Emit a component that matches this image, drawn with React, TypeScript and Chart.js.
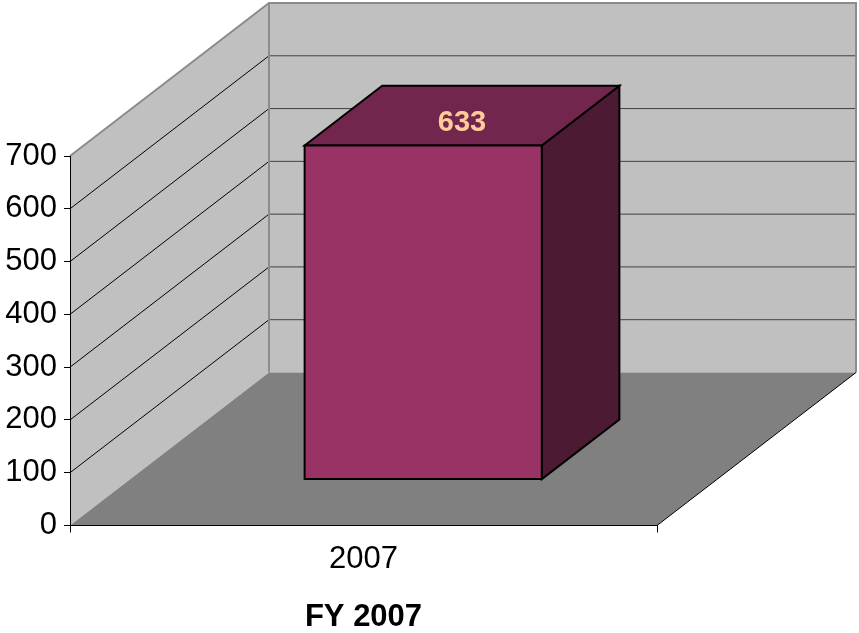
import React, { useEffect, useRef } from 'react';
import { Chart, registerables } from 'chart.js';

Chart.register(...registerables);

// ---- data ----
const categories: string[] = ['2007'];
const seriesValues: number[] = [633];
const yMin = 0;
const yMax = 700;
const yStep = 100;
const xTitle = 'FY 2007';

// ---- 3D look (styles) ----
const DEPTH_X = 199;
const DEPTH_Y = -153;
const BAR_FRONT = 0.3;
const BAR_BACK = 0.69;
const FONT = '"Liberation Sans", Arial, sans-serif';

const wallsPlugin = {
  id: 'walls3d',
  beforeDraw(chart: any) {
    const { ctx, chartArea: ca, scales } = chart;
    const ys = scales.y;
    const L = ca.left;
    const R = ca.right;
    const T = ys.getPixelForValue(yMax);
    const B = ys.getPixelForValue(yMin);
    const DX = DEPTH_X;
    const DY = DEPTH_Y;
    ctx.save();
    // left wall
    ctx.fillStyle = '#c0c0c0';
    ctx.beginPath();
    ctx.moveTo(L, T);
    ctx.lineTo(L + DX, T + DY);
    ctx.lineTo(L + DX, B + DY);
    ctx.lineTo(L, B);
    ctx.closePath();
    ctx.fill();
    // back wall
    ctx.fillRect(L + DX, T + DY, R - L, B - T);
    // floor
    ctx.fillStyle = '#808080';
    ctx.beginPath();
    ctx.moveTo(L, B);
    ctx.lineTo(L + DX, B + DY);
    ctx.lineTo(R + DX, B + DY);
    ctx.lineTo(R, B);
    ctx.closePath();
    ctx.fill();
    // gridlines
    ys.ticks.forEach((t: any) => {
      if (t.value === yMin || t.value === yMax) return;
      const p = ys.getPixelForValue(t.value);
      ctx.lineWidth = 1;
      ctx.strokeStyle = '#404040';
      ctx.beginPath();
      ctx.moveTo(L + DX, p + DY);
      ctx.lineTo(R + DX, p + DY);
      ctx.stroke();
      ctx.strokeStyle = '#000';
      ctx.beginPath();
      ctx.moveTo(L, p);
      ctx.lineTo(L + DX, p + DY);
      ctx.stroke();
    });
    // wall borders
    ctx.strokeStyle = '#8c8c8c';
    ctx.lineWidth = 2;
    ctx.beginPath();
    ctx.moveTo(L, T);
    ctx.lineTo(L + DX, T + DY);
    ctx.lineTo(R + DX, T + DY);
    ctx.lineTo(R + DX, B + DY);
    ctx.moveTo(L + DX, T + DY);
    ctx.lineTo(L + DX, B + DY);
    ctx.stroke();
    // floor right edge
    ctx.strokeStyle = '#000';
    ctx.lineWidth = 1;
    ctx.beginPath();
    ctx.moveTo(R, B);
    ctx.lineTo(R + DX, B + DY);
    ctx.stroke();
    ctx.restore();
  },
  afterDatasetsDraw(chart: any) {
    const { ctx } = chart;
    const meta = chart.getDatasetMeta(0);
    const fx = DEPTH_X * BAR_FRONT;
    const fy = DEPTH_Y * BAR_FRONT;
    const dx = DEPTH_X * (BAR_BACK - BAR_FRONT);
    const dy = DEPTH_Y * (BAR_BACK - BAR_FRONT);
    ctx.save();
    meta.data.forEach((el: any, i: number) => {
      const { x, y, base, width } = el.getProps(['x', 'y', 'base', 'width'], true);
      const l = x - width / 2 + fx;
      const r = x + width / 2 + fx;
      const t = y + fy;
      const b = base + fy;
      ctx.lineWidth = 2;
      ctx.lineJoin = 'miter';
      ctx.strokeStyle = '#000';
      // side
      ctx.fillStyle = '#4d1a33';
      ctx.beginPath();
      ctx.moveTo(r, t);
      ctx.lineTo(r + dx, t + dy);
      ctx.lineTo(r + dx, b + dy);
      ctx.lineTo(r, b);
      ctx.closePath();
      ctx.fill();
      ctx.stroke();
      // top
      ctx.fillStyle = '#73264d';
      ctx.beginPath();
      ctx.moveTo(l, t);
      ctx.lineTo(l + dx, t + dy);
      ctx.lineTo(r + dx, t + dy);
      ctx.lineTo(r, t);
      ctx.closePath();
      ctx.fill();
      ctx.stroke();
      // front
      ctx.fillStyle = '#993366';
      ctx.beginPath();
      ctx.rect(l, t, r - l, b - t);
      ctx.fill();
      ctx.stroke();
      // value label
      ctx.fillStyle = '#ffcc99';
      ctx.font = 'bold 29px ' + FONT;
      ctx.textAlign = 'center';
      ctx.textBaseline = 'middle';
      ctx.fillText(String(seriesValues[i]), (l + r) / 2 + dx / 2, t + dy / 2 + 7);
    });
    ctx.restore();
  },
};

export default function App() {
  const ref = useRef<HTMLCanvasElement | null>(null);
  useEffect(() => {
    if (!ref.current) return;
    const chart = new Chart(ref.current, {
      type: 'bar',
      data: {
        labels: categories,
        datasets: [
          {
            data: seriesValues,
            backgroundColor: 'rgba(0,0,0,0)',
            borderWidth: 0,
            categoryPercentage: 1,
            barPercentage: 0.404,
          },
        ],
      },
      options: {
        animation: false,
        responsive: false,
        layout: { padding: { top: 156, right: 202, left: 0, bottom: 0 } },
        plugins: { legend: { display: false }, tooltip: { enabled: false } },
        scales: {
          x: {
            offset: true,
            grid: {
              display: true,
              drawOnChartArea: false,
              drawTicks: true,
              tickLength: 7,
              color: '#000',
              offset: true,
            },
            border: { display: true, color: '#000', width: 1 },
            ticks: { color: '#000', font: { family: FONT, size: 31 }, padding: 8 },
            title: {
              display: true,
              text: xTitle,
              color: '#000',
              font: { family: FONT, size: 31, weight: 'bold', lineHeight: 1 },
              padding: 0,
            },
            afterFit(s: any) {
              s.height = 107.5;
            },
          },
          y: {
            min: yMin,
            max: yMax,
            ticks: { stepSize: yStep, color: '#000', font: { family: FONT, size: 31 }, padding: 7 },
            grid: { drawOnChartArea: false, drawTicks: true, tickLength: 6, color: '#000' },
            border: { display: true, color: '#000', width: 1 },
            afterFit(s: any) {
              s.width = 70;
            },
          },
        },
      },
      plugins: [wallsPlugin],
    });
    return () => chart.destroy();
  }, []);
  return (
    <div style={{ position: 'fixed', left: 0, top: 0, width: 859, height: 633, background: '#fff' }}>
      <canvas ref={ref} width={859} height={633} style={{ display: 'block' }} />
    </div>
  );
}
